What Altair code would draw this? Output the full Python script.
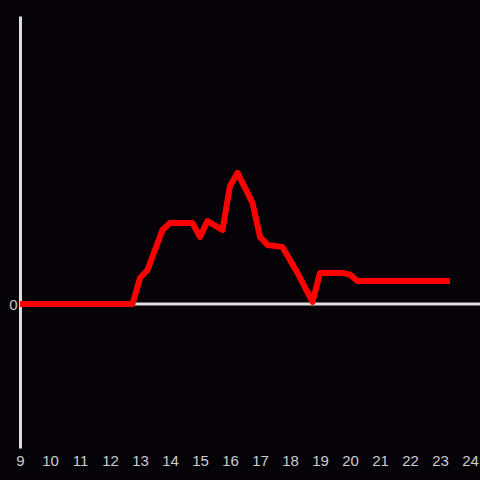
import altair as alt
import pandas as pd

hours = [9.0, 12.75, 13.0, 13.25, 13.75, 14.0, 14.75, 15.0, 15.25, 15.75, 16.0, 16.25,
         16.75, 17.0, 17.25, 17.75, 18.25, 18.75, 19.0, 19.75, 20.0, 20.25, 23.33]
values = [0, 0, 9.0, 11.8, 25.7, 28.1, 28.1, 23.3, 28.8, 25.7, 41.0, 45.5,
          35.1, 23.3, 20.5, 19.8, 10.8, 0.7, 10.8, 10.8, 10.2, 8.0, 8.0]
x_ticks = list(range(9, 25))

df = pd.DataFrame({"hour": hours, "value": values})

BG = "#050307"
W, H = 460, 432
xs = alt.Scale(domain=[9, 24 + 1 / 3], nice=False, zero=False)
ys = alt.Scale(domain=[-50, 100], nice=False, zero=False)

line = alt.Chart(df).mark_line(color="#ff0000", strokeWidth=6, strokeJoin="round").encode(
    x=alt.X("hour:Q", scale=xs,
            axis=alt.Axis(values=x_ticks, title=None, domain=False, ticks=False, grid=False,
                          labelColor="#cccccc", labelFontSize=15, labelPadding=5,
                          labelFont="Liberation Sans", labelFlush=False)),
    y=alt.Y("value:Q", scale=ys,
            axis=alt.Axis(values=[0], title=None, domain=True, domainColor="#dddddd",
                          domainWidth=3, ticks=False, grid=False, labelColor="#cccccc",
                          labelFontSize=15, labelPadding=3, labelFont="Liberation Sans")),
)

zero = alt.Chart(pd.DataFrame({"z": [0]})).mark_rule(color="#dddddd", strokeWidth=3).encode(
    y=alt.Y("z:Q", scale=ys)
)

chart = (zero + line).properties(
    width=W, height=H,
    autosize=alt.AutoSizeParams(type="none"),
    padding={"left": 20, "top": 16, "right": 0, "bottom": 30},
    background=BG,
).configure_view(stroke=None)

chart.save("out.html", embed_options={
    "renderer": "svg", "actions": False,
    "defaultStyle": "body{margin:0;background:%s;overflow:hidden}" % BG,
})
